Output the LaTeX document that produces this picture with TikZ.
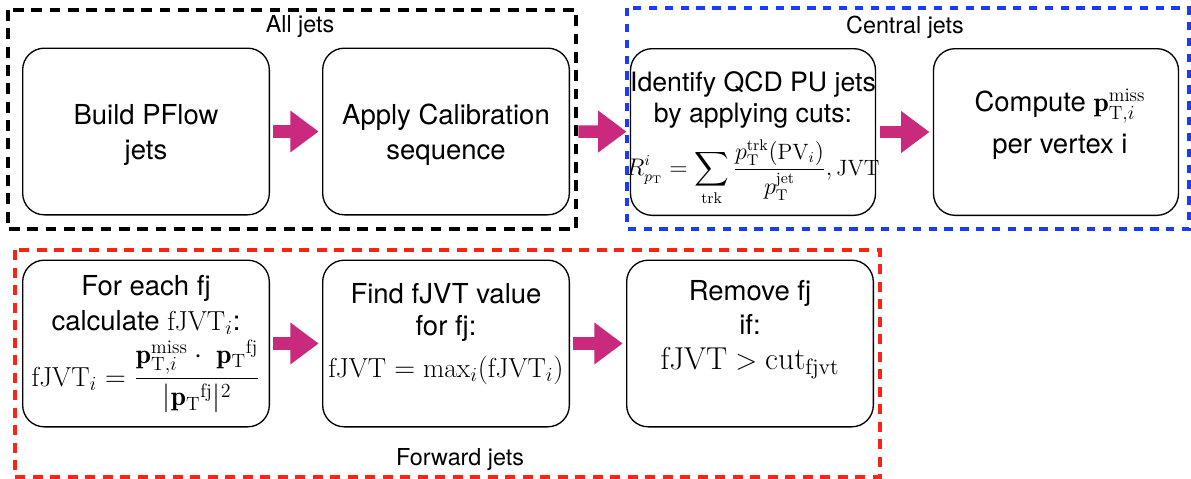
\documentclass[tikz,border=0pt]{standalone}
\usepackage{fontspec}
\setsansfont{TeX Gyre Heros}
\usepackage{amsmath}
\usetikzlibrary{arrows.meta,positioning}

\definecolor{flowmag}{RGB}{202,42,126}
\definecolor{centralblue}{RGB}{25,60,250}
\definecolor{forwardred}{RGB}{250,35,20}

\tikzset{
  stepbox/.style={draw, line width=0.8pt, rounded corners=13pt,
    minimum width=148pt, minimum height=100pt, inner sep=0pt},
  steptext/.style={font=\sffamily\fontsize{16.5}{19}\selectfont, align=center, inner sep=0pt},
  grouplabel/.style={font=\sffamily\fontsize{14}{16}\selectfont, inner sep=0pt},
  groupframe/.style={line width=2pt, dash pattern=on 6.5pt off 4.5pt},
  flow/.style={draw=flowmag, line width=7.5pt, shorten <=2pt, shorten >=2pt,
    -{Triangle[length=17pt,width=24pt]}}
}

\begin{document}
\begin{tikzpicture}[x=0.6pt,y=-0.6pt]
        \useasboundingbox (0,0) rectangle (1191,479);

        % Draw the group frames
        \draw[groupframe] (8,10) rectangle (576,229);
        \draw[groupframe, centralblue, dash pattern=on 5pt off 4.5pt] (627,8) rectangle (1189,229);
        \draw[groupframe, forwardred, line width=1.9pt, dash pattern=on 6pt off 4.5pt] (15,250) rectangle (880,477);

        % Label the groups
        \node[grouplabel] (alllab) at (300,27) {All jets};
        \node[grouplabel] (centrallab) at (905,27) {Central jets};
        \node[grouplabel] (forwardlab) at (460,460) {Forward jets};

        % Top row: all jets and central jets
        \node[stepbox] (build) at (146,131.5) {};
        \node[stepbox] (calib) at (446,131.5) {};
        \node[stepbox, minimum width=147pt] (identify) at (753,132) {};
        \node[stepbox, minimum width=147pt] (compute) at (1056,132) {};

        % Bottom row: forward jets
        \node[stepbox] (foreach) at (146,343.5) {};
        \node[stepbox] (findval) at (446,343.5) {};
        \node[stepbox] (remove) at (750,343.5) {};

        % Texts of the steps
        \node[steptext] (buildtxt) at (146,135) {Build PFlow\\[2pt]jets};
        \node[steptext] (calibtxt) at (446,135) {Apply Calibration\\[2pt]sequence};
        \node[steptext, font=\sffamily\fontsize{16}{18.5}\selectfont] (identifytxt) at (753,100)
          {Identify QCD PU jets\\by applying cuts:};
        \node[steptext, font=\fontsize{13.3}{16}\selectfont] (identifyeq) at (753,173)
          {$\displaystyle R^{i}_{p_{\mathrm{T}}}=\sum_{\mathrm{trk}}
            \frac{p_{\mathrm{T}}^{\mathrm{trk}}(\mathrm{PV}_{i})}{p_{\mathrm{T}}^{\mathrm{jet}}},\mathrm{JVT}$};
        \node[steptext] (computetxt) at (1060,124)
          {Compute $\mathbf{p}_{\mathrm{T},i}^{\mathrm{miss}}$\\[6pt]per vertex i};
        \node[steptext] (foreachtxt) at (146,344)
          {For each fj\\[2pt]calculate $\mathrm{fJVT}_{i}$:\\[2pt]
           $\displaystyle \mathrm{fJVT}_{i}=
            \frac{\mathbf{p}_{\mathrm{T},i}^{\mathrm{miss}}\cdot\ {\mathbf{p}_{\mathrm{T}}}^{\mathrm{fj}}}
                 {|{\mathbf{p}_{\mathrm{T}}}^{\mathrm{fj}}|^{2}}$};
        \node[steptext] (findvaltxt) at (446,334)
          {Find fJVT value\\for fj:\\[6pt]
           $\mathrm{fJVT}=\max_{i}(\mathrm{fJVT}_{i})$};
        \node[steptext] (removetxt) at (750,330)
          {Remove fj\\[1pt]if:\\[2pt]
           {\fontsize{19}{22}\selectfont$\mathrm{fJVT}>\mathrm{cut}_{\mathrm{fjvt}}$}};

        % Draw the flow arrows
        \draw[flow] (build) -- (calib);
        \draw[flow] ([xshift=3pt]calib.east) -- (identify);
        \draw[flow] (identify) -- (compute);
        \draw[flow] (foreach) -- (findval);
        \draw[flow] (findval) -- (remove);
\end{tikzpicture}
\end{document}
